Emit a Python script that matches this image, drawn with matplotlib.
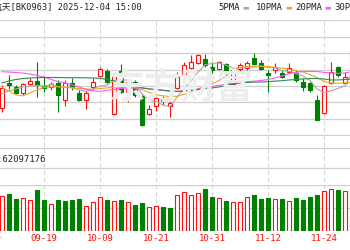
import numpy as np
import matplotlib
matplotlib.use('Agg')
import matplotlib.pyplot as plt

plt.rcParams['font.family'] = ['DejaVu Sans Mono', 'Noto Sans CJK SC']
plt.rcParams['lines.scale_dashes'] = False

# daily candles, first one is 09-11 (price units)
opens = [32, 57, 53.3, 47, 55.7, 59.3, 54, 52.7, 56.7, 40, 57.3, 47.3, 40, 52.7, 64, 69.3, 25.7,
         69.3, 48.3, 58.3, 44, 26, 33.3, 38.3, 33.3, 51.7, 66, 71.7, 77.3, 80.7, 72.7, 70.7, 76,
         56, 70.7, 71.7, 81.7, 76.7, 66.7, 70, 66.7, 68.3, 67.3, 58.3, 56.7, 40, 26.7, 56.7, 73.3,
         56.7, 74]
highs = [55, 65, 55, 57.3, 61.7, 78, 64, 58.3, 60, 60, 61.7, 50, 49.3, 61.7, 72.7, 70.7, 65,
         75.7, 60, 60, 45, 35, 43.3, 44.3, 38.3, 68.3, 78.3, 85, 86.7, 86.7, 78.3, 79.3, 77.3,
         71.7, 76.7, 79.3, 87.7, 80, 70, 77.3, 70, 76.7, 70, 61.7, 58.3, 45, 55, 78.3, 74, 68.3, 95]
lows = [28, 51, 46, 45, 55, 43, 48, 50, 27.3, 34, 50, 39.3, 31, 50, 63.3, 56.7, 25, 46.7, 37.3,
        43.3, 14, 25, 28.3, 35, 23, 51, 63.3, 70.7, 76, 73.3, 67.3, 70, 65, 55, 68.3, 70, 75, 70,
        48.3, 66.7, 61.7, 66.7, 58.3, 49.3, 48.3, 19.3, 26, 56, 63.3, 56, 73]
closes = [52, 55, 46.7, 56, 59.3, 55, 52, 55.7, 45, 56.7, 53.3, 40, 46.7, 58.3, 71, 58.3, 64.3,
          48.3, 58.3, 45, 15, 31, 41.7, 40.7, 37, 63.3, 75, 78.3, 85, 75, 70, 77.7, 66.7, 70, 75,
          76.7, 76, 70.7, 65, 72.7, 63.3, 71.7, 60, 52.7, 50, 20, 54, 68.3, 65, 62.7, 90]

ma5 = [46, 49, 51, 53, 53.8, 54.4, 53.8, 55.6, 53.4, 52.9, 52.5, 50.1, 48.3, 51, 53.9, 54.9,
       59.7, 60, 60, 54.8, 46.2, 39.5, 38.2, 34.7, 33.1, 42.7, 51.5, 58.9, 67.7, 75.3, 76.7,
       77.2, 74.9, 71.9, 71.9, 73.2, 72.9, 73.7, 72.7, 72.2, 69.5, 68.7, 66.5, 64.1, 59.5, 50.9,
       47.3, 49, 51.5, 54, 68]
ma10 = [52.5, 49, 45, 44, 47, 50, 52.3, 53, 53.2, 52.7, 52, 51.5, 51, 50.7, 51.3, 52, 52.5,
        52.7, 52.7, 52, 50.3, 47.5, 45.2, 44, 43.3, 43.5, 45.5, 48, 51, 53.5, 56, 59.5, 64, 68.7,
        72.5, 73.5, 74, 74, 73.5, 72.8, 72, 70.8, 69.5, 68, 65.3, 62.5, 58.5, 57, 56.7, 57.2, 57.5]
ma20 = [68.3, 68, 67.5, 67, 66, 64.5, 63, 60.5, 58.5, 57, 55, 53, 50.5, 49, 48.5, 49.5, 50.5,
        51.5, 52, 52, 52, 51, 50, 49.5, 48.7, 48.5, 49, 50, 51, 52.2, 53.5, 54.7, 55.7, 56.7,
        57.5, 58.2, 58.8, 59.5, 60.5, 62, 64, 66.2, 67.8, 68.5, 68.7, 68.5, 67.7, 67, 66.7, 67, 68.5]
ma30 = [57, 59, 60.5, 61.5, 62, 62.3, 62.5, 62.5, 62.5, 62.3, 62.3, 62.3, 62.2, 62, 61.7, 60.5,
        59, 57, 55, 53.5, 52, 51, 50.3, 49.7, 49, 48.5, 48.8, 49.5, 50.3, 51.2, 52, 53, 54.5, 56,
        57, 57.5, 57.8, 58, 58.3, 58.8, 59.3, 60, 60.5, 61, 61.5, 61.5, 61, 60, 60, 60.5, 61]

# volume in millions, and whether the bar is drawn as an up (red) day
volume = [52.5, 56.1, 48.6, 50.1, 47.1, 61.1, 47.1, 41.1, 47.1, 45, 46.1, 47.6, 37.5, 43.1, 51,
          47.1, 44.6, 47.1, 43.1, 39.6, 42, 36, 37.5, 36, 35.1, 53.6, 58.5, 53.6, 57.6, 63.6, 51,
          49.5, 45.6, 44.1, 44.1, 51, 54, 48.6, 50.1, 48.6, 48.6, 45.6, 50.1, 47.1, 51, 54, 60.6,
          63.6, 61.1, 59.6, 61.1]
vol_up = [1, 0, 0, 1, 1, 0, 0, 1, 0, 0, 0, 0, 1, 1, 1, 0, 1, 0, 1, 0, 0, 1, 1, 0, 0, 1, 1, 1, 1,
          0, 0, 1, 0, 1, 1, 1, 0, 0, 0, 1, 0, 1, 0, 0, 0, 0, 1, 1, 0, 1, 1]

tick_pos = [-2, 6, 14, 22, 30, 38, 46]
tick_labels = ['09-09', '09-19', '10-09', '10-21', '10-31', '11-12', '11-24']

RED = '#ff1010'
GREEN = '#008000'
GRID = '#cfcfcf'
MA_COLORS = ['#a8a8a8', '#f5a31a', '#ff55ff', '#2e8b57']

W, H = 350, 250
fig = plt.figure(figsize=(3.5, 2.5), dpi=100, facecolor='white')
xlim = (-22 / 7, 368 / 7)


def px_axes(x0, y0, x1, y1):
    a = fig.add_axes([x0 / W, 1 - y1 / H, (x1 - x0) / W, (y1 - y0) / H])
    a.set_facecolor('none')
    a.set_xlim(*xlim)
    for s in a.spines.values():
        s.set_visible(False)
    a.tick_params(length=0, labelleft=False, labelbottom=False)
    return a


# background: dashed day separators and the volume caption band
bg = px_axes(-20, 20, 370, 231)
bg.set_ylim(231, 20)
for t in tick_pos:
    bg.axvline(t, color='#d4d4d4', lw=0.8, ls=(0, (2.9, 2.2)), zorder=0)
bg.axhline(148, color=GRID, lw=0.9)
bg.axhline(168, color=GRID, lw=0.9)
bg.set_xticks([])
bg.set_yticks([])

# price panel
ax = px_axes(-20, 20, 370, 136)
ax.set_ylim(3.5, 120.5)
ax.set_yticks(120 - 16.5 * np.arange(8))
ax.set_xticks([])
ax.grid(axis='y', color=GRID, lw=0.9)
ax.set_axisbelow(True)

fig.text(181 / W, 1 - 88 / H, '东方财富', fontsize=26, fontweight='bold', color='#ededed',
         ha='center', va='center', zorder=0, family=['Noto Sans CJK SC'])

x = np.arange(len(closes))
o, hi, lo, c = map(np.array, (opens, highs, lows, closes))
up = c >= o
cols = np.where(up, RED, GREEN)
ax.vlines(x, lo, hi, colors=cols, lw=0.8, zorder=3)
ax.bar(x, np.maximum(np.abs(c - o), 0.8), bottom=np.minimum(o, c), width=0.6,
       color=np.where(up, 'white', GREEN), edgecolor=cols, lw=0.8, zorder=4)
for ma, col in zip([ma5, ma10, ma20, ma30], MA_COLORS):
    ax.plot(x, ma, color=col, lw=0.8, zorder=5)

# volume panel
vx = px_axes(-20, 185, 370, 231)
vx.set_ylim(0, 69)
vx.set_yticks([0, 34.5, 69])
vx.grid(axis='y', color=GRID, lw=0.9)
vx.set_axisbelow(True)
vup = np.array(vol_up, dtype=bool)
vcols = np.where(vup, RED, GREEN)
vx.bar(x, volume, width=0.6, color=np.where(vup, 'white', GREEN), edgecolor=vcols, lw=0.8,
       zorder=3)
vx.set_xticks(tick_pos)
vx.set_xticklabels(tick_labels, color=RED, fontsize=6.5)
vx.tick_params(axis='x', labelbottom=True, pad=2.5)

# header texts
fig.text(142 / W, 1 - 7 / H, '商业航天[BK0963] 2025-12-04 15:00', fontsize=6.25, color='#222222',
         ha='right', va='center')
legend = [('5PMA', 218, '#222222'), ('▬', 242, MA_COLORS[0]), ('10PMA', 256, '#222222'),
          ('▬', 285, MA_COLORS[1]), ('20PMA', 295, '#222222'), ('▬', 324, MA_COLORS[2]),
          ('30PMA', 334, '#222222')]
for txt, px, col in legend:
    if txt == '▬':
        fig.text(px / W, 1 - 7.5 / H, txt, fontsize=5, color=col, ha='left', va='center',
                 family=['DejaVu Sans'])
    else:
        fig.text(px / W, 1 - 7 / H, txt, fontsize=6.5, color=col, ha='left', va='center')
fig.text(46 / W, 1 - 159 / H, '成交量:62097176', fontsize=6.5, color='#222222',
         ha='right', va='center')

fig.savefig('out.png', dpi=100, facecolor='white')
